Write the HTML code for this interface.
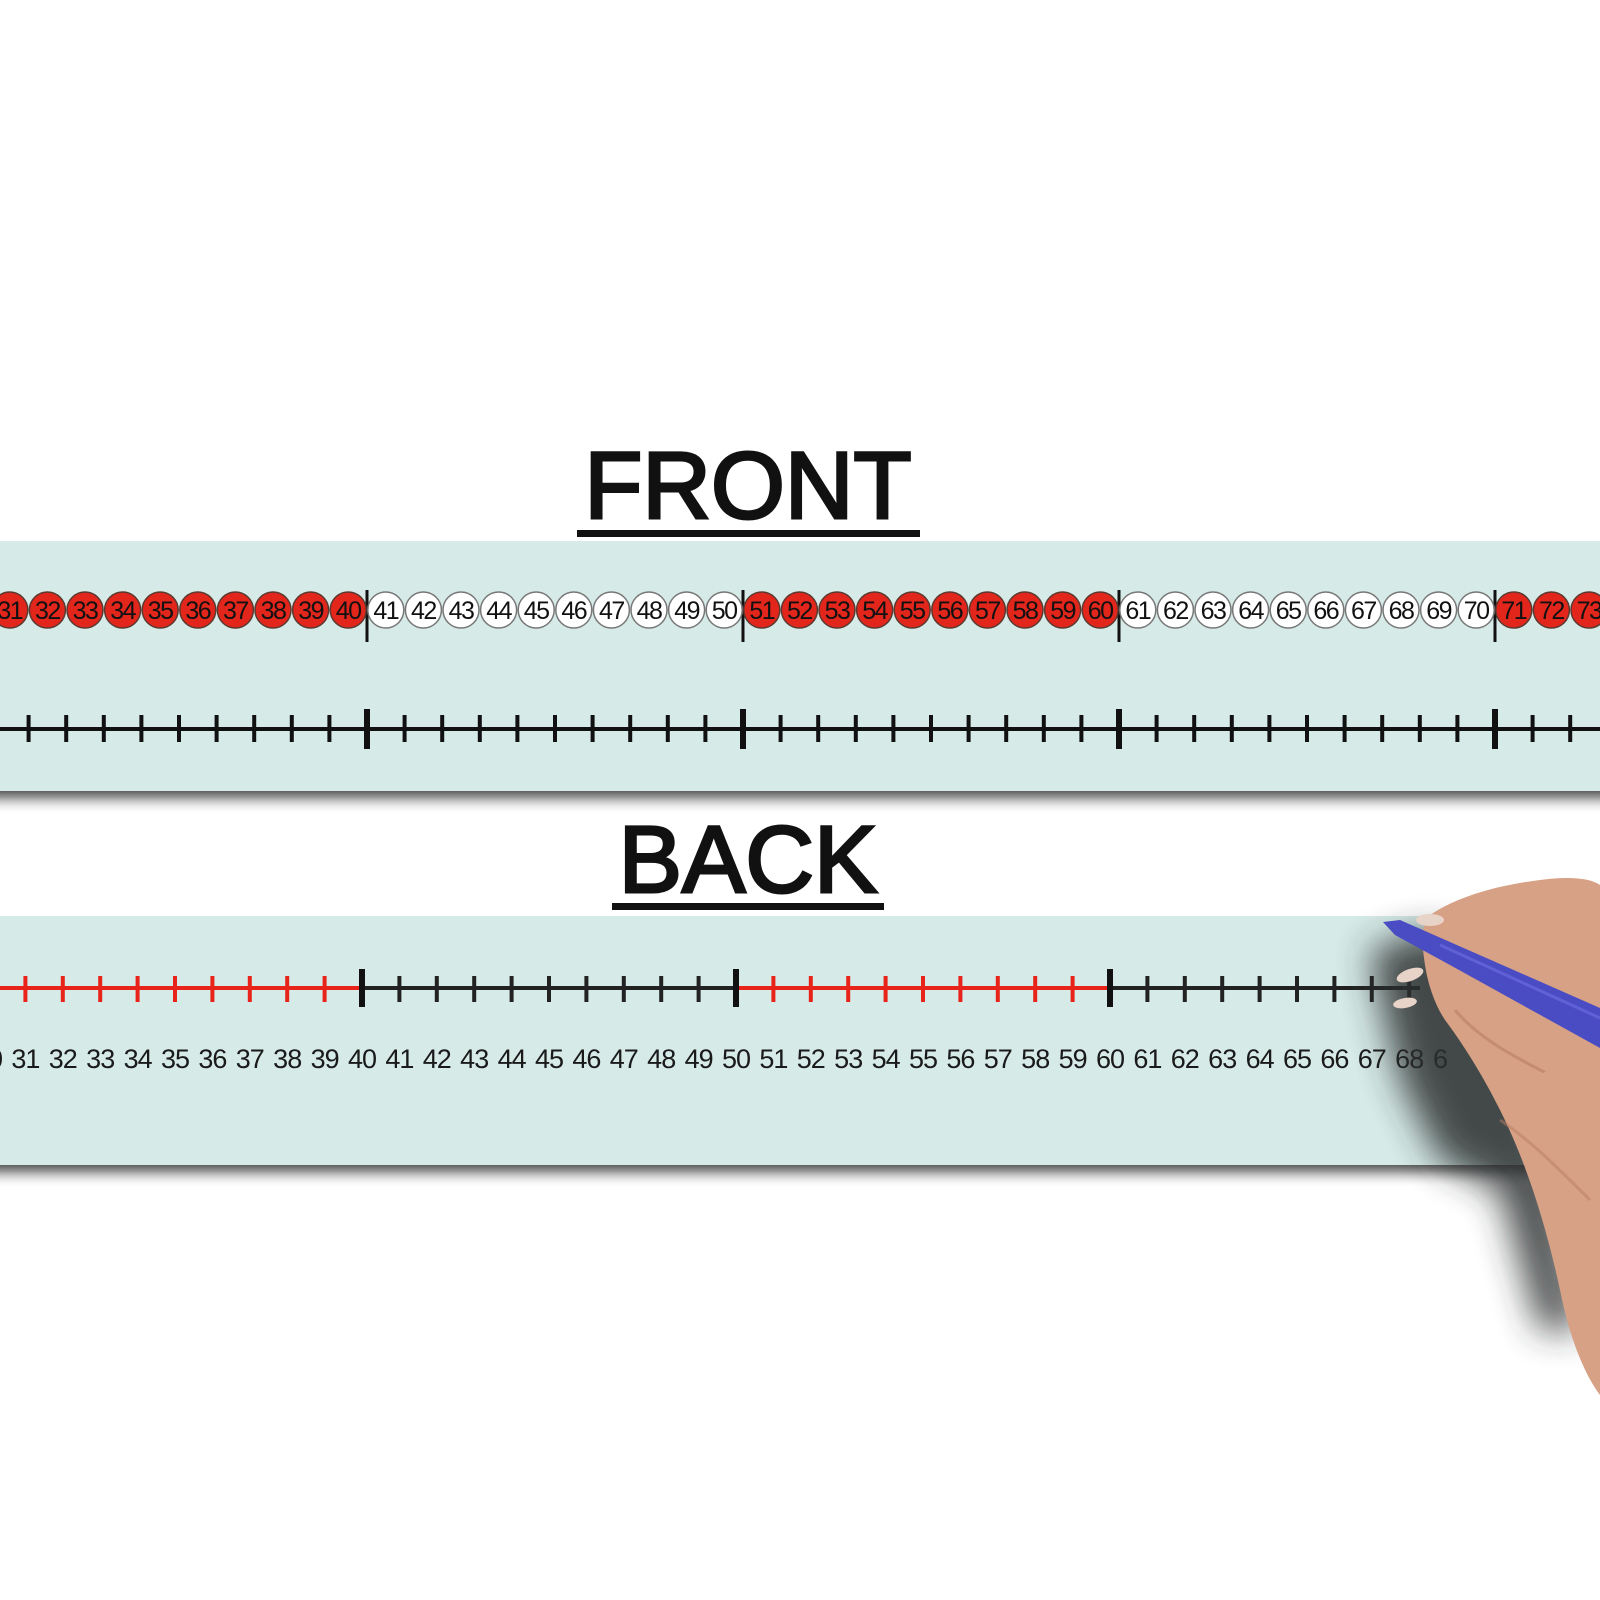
<!DOCTYPE html>
<html><head><meta charset="utf-8"><style>
html,body{margin:0;padding:0;background:#fff;}
svg{display:block}
</style></head><body>
<svg width="1600" height="1600" viewBox="0 0 1600 1600" xmlns="http://www.w3.org/2000/svg" font-family="Liberation Sans, sans-serif">
<defs>
<linearGradient id="sh" x1="0" y1="0" x2="0" y2="1"><stop offset="0" stop-color="#555"/><stop offset="0.3" stop-color="#999"/><stop offset="1" stop-color="#fff" stop-opacity="0"/></linearGradient>
<filter id="bl" x="-50%" y="-50%" width="200%" height="200%"><feGaussianBlur stdDeviation="18"/></filter>
</defs>

<text x="748" y="518" font-size="95" text-anchor="middle" fill="#111" stroke="#111" stroke-width="3">FRONT</text>
<rect x="577" y="530" width="343" height="7" fill="#111"/>

<rect x="0" y="790" width="1600" height="24" fill="url(#sh)"/>
<rect x="0" y="541" width="1600" height="250" fill="#d6eae7"/>

<g stroke="#111" stroke-width="3">
<path d="M367 590v52M743 590v52M1119 590v52M1495 590v52"/>
</g>
<g stroke="#5a3a30" stroke-width="1.5" fill="#e2261c">
<circle cx="-27.8" cy="610" r="18"/><circle cx="9.8" cy="610" r="18"/><circle cx="47.4" cy="610" r="18"/><circle cx="85" cy="610" r="18"/><circle cx="122.6" cy="610" r="18"/><circle cx="160.2" cy="610" r="18"/><circle cx="197.8" cy="610" r="18"/><circle cx="235.4" cy="610" r="18"/><circle cx="273" cy="610" r="18"/><circle cx="310.6" cy="610" r="18"/><circle cx="348.2" cy="610" r="18"/>
<circle cx="761.8" cy="610" r="18"/><circle cx="799.4" cy="610" r="18"/><circle cx="837" cy="610" r="18"/><circle cx="874.6" cy="610" r="18"/><circle cx="912.2" cy="610" r="18"/><circle cx="949.8" cy="610" r="18"/><circle cx="987.4" cy="610" r="18"/><circle cx="1025" cy="610" r="18"/><circle cx="1062.6" cy="610" r="18"/><circle cx="1100.2" cy="610" r="18"/>
<circle cx="1513.8" cy="610" r="18"/><circle cx="1551.4" cy="610" r="18"/><circle cx="1589" cy="610" r="18"/><circle cx="1626.6" cy="610" r="18"/>
</g>
<g stroke="#777" stroke-width="1.5" fill="#fff">
<circle cx="385.8" cy="610" r="18"/><circle cx="423.4" cy="610" r="18"/><circle cx="461" cy="610" r="18"/><circle cx="498.6" cy="610" r="18"/><circle cx="536.2" cy="610" r="18"/><circle cx="573.8" cy="610" r="18"/><circle cx="611.4" cy="610" r="18"/><circle cx="649" cy="610" r="18"/><circle cx="686.6" cy="610" r="18"/><circle cx="724.2" cy="610" r="18"/>
<circle cx="1137.8" cy="610" r="18"/><circle cx="1175.4" cy="610" r="18"/><circle cx="1213" cy="610" r="18"/><circle cx="1250.6" cy="610" r="18"/><circle cx="1288.2" cy="610" r="18"/><circle cx="1325.8" cy="610" r="18"/><circle cx="1363.4" cy="610" r="18"/><circle cx="1401" cy="610" r="18"/><circle cx="1438.6" cy="610" r="18"/><circle cx="1476.2" cy="610" r="18"/>
</g>
<g font-size="25" text-anchor="middle" fill="#111" letter-spacing="-1.5">
<text x="9.8" y="619">31</text><text x="47.4" y="619">32</text><text x="85" y="619">33</text><text x="122.6" y="619">34</text><text x="160.2" y="619">35</text><text x="197.8" y="619">36</text><text x="235.4" y="619">37</text><text x="273" y="619">38</text><text x="310.6" y="619">39</text><text x="348.2" y="619">40</text>
<text x="385.8" y="619">41</text><text x="423.4" y="619">42</text><text x="461" y="619">43</text><text x="498.6" y="619">44</text><text x="536.2" y="619">45</text><text x="573.8" y="619">46</text><text x="611.4" y="619">47</text><text x="649" y="619">48</text><text x="686.6" y="619">49</text><text x="724.2" y="619">50</text>
<text x="761.8" y="619">51</text><text x="799.4" y="619">52</text><text x="837" y="619">53</text><text x="874.6" y="619">54</text><text x="912.2" y="619">55</text><text x="949.8" y="619">56</text><text x="987.4" y="619">57</text><text x="1025" y="619">58</text><text x="1062.6" y="619">59</text><text x="1100.2" y="619">60</text>
<text x="1137.8" y="619">61</text><text x="1175.4" y="619">62</text><text x="1213" y="619">63</text><text x="1250.6" y="619">64</text><text x="1288.2" y="619">65</text><text x="1325.8" y="619">66</text><text x="1363.4" y="619">67</text><text x="1401" y="619">68</text><text x="1438.6" y="619">69</text><text x="1476.2" y="619">70</text>
<text x="1513.8" y="619">71</text><text x="1551.4" y="619">72</text><text x="1589" y="619">73</text>
</g>

<g stroke="#111">
<path d="M0 729H1600" stroke-width="4"/>
<path stroke-width="4" d="M28.6 715v27M66.2 715v27M103.8 715v27M141.4 715v27M179 715v27M216.6 715v27M254.2 715v27M291.8 715v27M329.4 715v27M404.6 715v27M442.2 715v27M479.8 715v27M517.4 715v27M555 715v27M592.6 715v27M630.2 715v27M667.8 715v27M705.4 715v27M780.6 715v27M818.2 715v27M855.8 715v27M893.4 715v27M931 715v27M968.6 715v27M1006.2 715v27M1043.8 715v27M1081.4 715v27M1156.6 715v27M1194.2 715v27M1231.8 715v27M1269.4 715v27M1307 715v27M1344.6 715v27M1382.2 715v27M1419.8 715v27M1457.4 715v27M1532.6 715v27M1570.2 715v27"/>
<path stroke-width="6" d="M367 709v40M743 709v40M1119 709v40M1495 709v40"/>
</g>

<text x="748" y="892" font-size="95" text-anchor="middle" fill="#111" stroke="#111" stroke-width="3">BACK</text>
<rect x="612" y="903" width="272" height="7" fill="#111"/>

<rect x="0" y="1164" width="1600" height="24" fill="url(#sh)"/>
<rect x="0" y="916" width="1600" height="249" fill="#d6eae7"/>

<g stroke-width="4">
<path d="M0 988H362M736 988H1110" stroke="#e8241a"/>
<path d="M362 988H736M1110 988H1420" stroke="#222"/>
<path stroke="#e8241a" d="M25.4 976v26M62.8 976v26M100.2 976v26M137.6 976v26M175 976v26M212.4 976v26M249.8 976v26M287.2 976v26M324.6 976v26M773.4 976v26M810.8 976v26M848.2 976v26M885.6 976v26M923 976v26M960.4 976v26M997.8 976v26M1035.2 976v26M1072.6 976v26"/>
<path stroke="#222" d="M399.4 976v26M436.8 976v26M474.2 976v26M511.6 976v26M549 976v26M586.4 976v26M623.8 976v26M661.2 976v26M698.6 976v26M1147.4 976v26M1184.8 976v26M1222.2 976v26M1259.6 976v26M1297 976v26M1334.4 976v26M1371.8 976v26M1409.2 976v26"/>
<path stroke="#111" stroke-width="6" d="M362 969v38M736 969v38M1110 969v38"/>
</g>
<g font-size="27" text-anchor="middle" fill="#1a1a1a" letter-spacing="-1">
<text x="-12" y="1068">30</text><text x="25.4" y="1068">31</text><text x="62.8" y="1068">32</text><text x="100.2" y="1068">33</text><text x="137.6" y="1068">34</text><text x="175" y="1068">35</text><text x="212.4" y="1068">36</text><text x="249.8" y="1068">37</text><text x="287.2" y="1068">38</text><text x="324.6" y="1068">39</text><text x="362" y="1068">40</text>
<text x="399.4" y="1068">41</text><text x="436.8" y="1068">42</text><text x="474.2" y="1068">43</text><text x="511.6" y="1068">44</text><text x="549" y="1068">45</text><text x="586.4" y="1068">46</text><text x="623.8" y="1068">47</text><text x="661.2" y="1068">48</text><text x="698.6" y="1068">49</text><text x="736" y="1068">50</text>
<text x="773.4" y="1068">51</text><text x="810.8" y="1068">52</text><text x="848.2" y="1068">53</text><text x="885.6" y="1068">54</text><text x="923" y="1068">55</text><text x="960.4" y="1068">56</text><text x="997.8" y="1068">57</text><text x="1035.2" y="1068">58</text><text x="1072.6" y="1068">59</text><text x="1110" y="1068">60</text>
<text x="1147.4" y="1068">61</text><text x="1184.8" y="1068">62</text><text x="1222.2" y="1068">63</text><text x="1259.6" y="1068">64</text><text x="1297" y="1068">65</text><text x="1334.4" y="1068">66</text><text x="1371.8" y="1068">67</text><text x="1409.2" y="1068">68</text><text x="1440" y="1068">6</text>
</g>

<!-- hand shadow -->
<path d="M1370 950 L1430 930 L1500 960 L1540 1080 L1560 1200 L1580 1330 L1540 1330 L1500 1190 L1440 1160 L1400 1080 L1380 1000 Z" fill="#2a2f2e" opacity="0.85" filter="url(#bl)"/>
<!-- hand -->
<path d="M1430 915 C1460 895 1500 885 1540 880 C1570 876 1590 878 1600 885 L1600 1395 C1585 1375 1570 1340 1560 1290 C1545 1220 1525 1160 1500 1110 C1480 1070 1460 1040 1445 1020 C1435 1005 1428 985 1425 965 C1422 945 1420 925 1430 915 Z" fill="#d7a186"/>
<path d="M1455 1010 C1480 1040 1520 1060 1560 1080" stroke="#b77e66" stroke-width="3" fill="none" opacity="0.6"/>
<path d="M1500 1120 C1530 1140 1560 1170 1590 1200" stroke="#b77e66" stroke-width="3" fill="none" opacity="0.5"/>
<ellipse cx="1410" cy="975" rx="14" ry="6" fill="#e8d3c8" transform="rotate(-20 1410 975)"/>
<ellipse cx="1405" cy="1003" rx="12" ry="5" fill="#e8d3c8" transform="rotate(-10 1405 1003)"/>
<ellipse cx="1430" cy="920" rx="14" ry="6" fill="#e8d3c8"/>
<!-- pen -->
<path d="M1383 922 L1400 920 L1600 1008 L1600 1048 L1450 965 L1395 935 Z" fill="#4a4cc4"/>
<path d="M1440 945 L1600 1018" stroke="#6d70e0" stroke-width="3" opacity="0.6"/>
<path d="M1540 1075 C1565 1060 1585 1055 1600 1050 L1600 1100 C1580 1100 1555 1095 1540 1075 Z" fill="#d7a186"/>
</svg>
</body></html>
